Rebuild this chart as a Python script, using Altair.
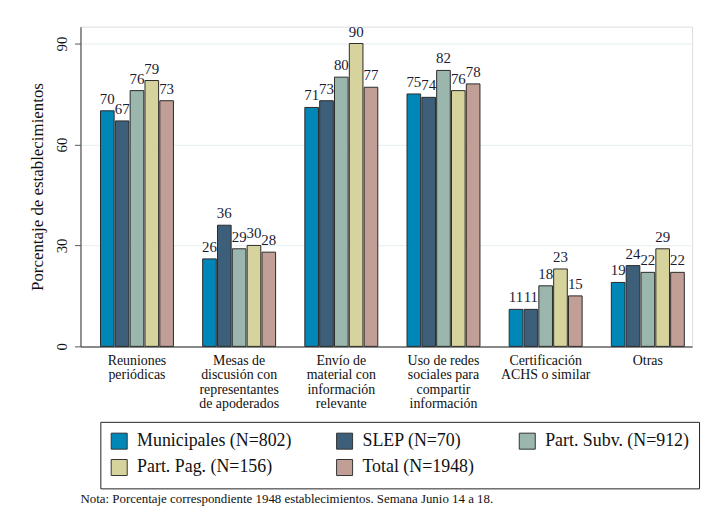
import altair as alt
import pandas as pd

categories = [
    "Reuniones\nperiódicas",
    "Mesas de\ndiscusión con\nrepresentantes\nde apoderados",
    "Envío de\nmaterial con\ninformación\nrelevante",
    "Uso de redes\nsociales para\ncompartir\ninformación",
    "Certificación\nACHS o similar",
    "Otras",
]
series = [
    "Municipales (N=802)",
    "SLEP (N=70)",
    "Part. Subv. (N=912)",
    "Part. Pag. (N=156)",
    "Total (N=1948)",
]
municipales = [70, 26, 71, 75, 11, 19]
slep = [67, 36, 73, 74, 11, 24]
part_subv = [76, 29, 80, 82, 18, 22]
part_pag = [79, 30, 90, 76, 23, 29]
total = [73, 28, 77, 78, 15, 22]
colors = ["#0087b8", "#3d5f7a", "#9bb6ad", "#d7d39d", "#c19f97"]

rows = []
for s, vals in zip(series, [municipales, slep, part_subv, part_pag, total]):
    for c, v in zip(categories, vals):
        rows.append({"cat": c, "serie": s, "valor": v})
df = pd.DataFrame(rows)

font = "Liberation Serif, Times New Roman, serif"

x = alt.X(
    "cat:N",
    sort=categories,
    scale=alt.Scale(paddingInner=0.286, paddingOuter=0.136, align=0.72),
    axis=alt.Axis(
        title=None,
        labelAngle=0,
        labelExpr="split(datum.label, '\\n')",
        labelFont=font,
        labelFontSize=14,
        labelColor="#111",
        labelLineHeight=14.5,
        labelPadding=7,
        ticks=False,
        domainColor="#666",
        domainWidth=1.5,
        labelBaseline="top",
    ),
)
y = alt.Y(
    "valor:Q",
    scale=alt.Scale(domain=[0, 95], nice=False),
    axis=alt.Axis(
        title="Porcentaje de establecimientos",
        titleFont=font,
        titleFontSize=17,
        titleFontWeight="normal",
        titleColor="#111",
        titlePadding=8,
        values=[0, 30, 60, 90],
        labelAngle=-90,
        labelAlign="center",
        labelBaseline="bottom",
        labelFont=font,
        labelFontSize=15,
        labelColor="#111",
        labelPadding=5,
        tickSize=6,
        tickColor="#555",
        domainColor="#555",
        domainWidth=1.2,
        grid=True,
        gridColor="#eaf1f3",
        gridWidth=1.2,
    ),
)
color = alt.Color(
    "serie:N",
    sort=series,
    scale=alt.Scale(domain=series, range=colors),
    legend=alt.Legend(
        title=None,
        orient="none",
        legendX=20,
        legendY=398,
        direction="horizontal",
        columns=3,
        columnPadding=42,
        rowPadding=5,
        symbolType="square",
        symbolSize=260,
        symbolStrokeColor="#333",
        symbolStrokeWidth=1,
        labelFont=font,
        labelFontSize=18,
        labelColor="#111",
        labelOffset=9,
        labelLimit=300,
        strokeColor="#222",
        fillColor="white",
        padding=10,
    ),
)
xoff = alt.XOffset("serie:N", sort=series, scale=alt.Scale(paddingInner=0.08))

base = alt.Chart(df).encode(x=x, xOffset=xoff)
bars = base.mark_bar(stroke="#2a2a2a", strokeWidth=1).encode(y=y, color=color)
labels = base.mark_text(
    baseline="bottom", dy=-4, font=font, fontSize=15, color="#1a1a33"
).encode(y="valor:Q", text="valor:Q")

chart = (
    alt.layer(bars, labels)
    .properties(
        width=616,
        height=322,
        padding={"left": 21, "top": 14, "right": 5, "bottom": 5},
        title=alt.TitleParams(
            "Nota: Porcentaje correspondiente 1948 establecimientos. Semana Junio 14 a 18.",
            orient="bottom",
            anchor="start",
            frame="group",
            font=font,
            fontSize=13,
            fontWeight="normal",
            color="#111",
            offset=4,
        ),
    )
    .configure_view(stroke=None)
    .configure(background="white", font=font)
)

chart.save("out.html", embed_options={"renderer": "svg", "actions": False})
